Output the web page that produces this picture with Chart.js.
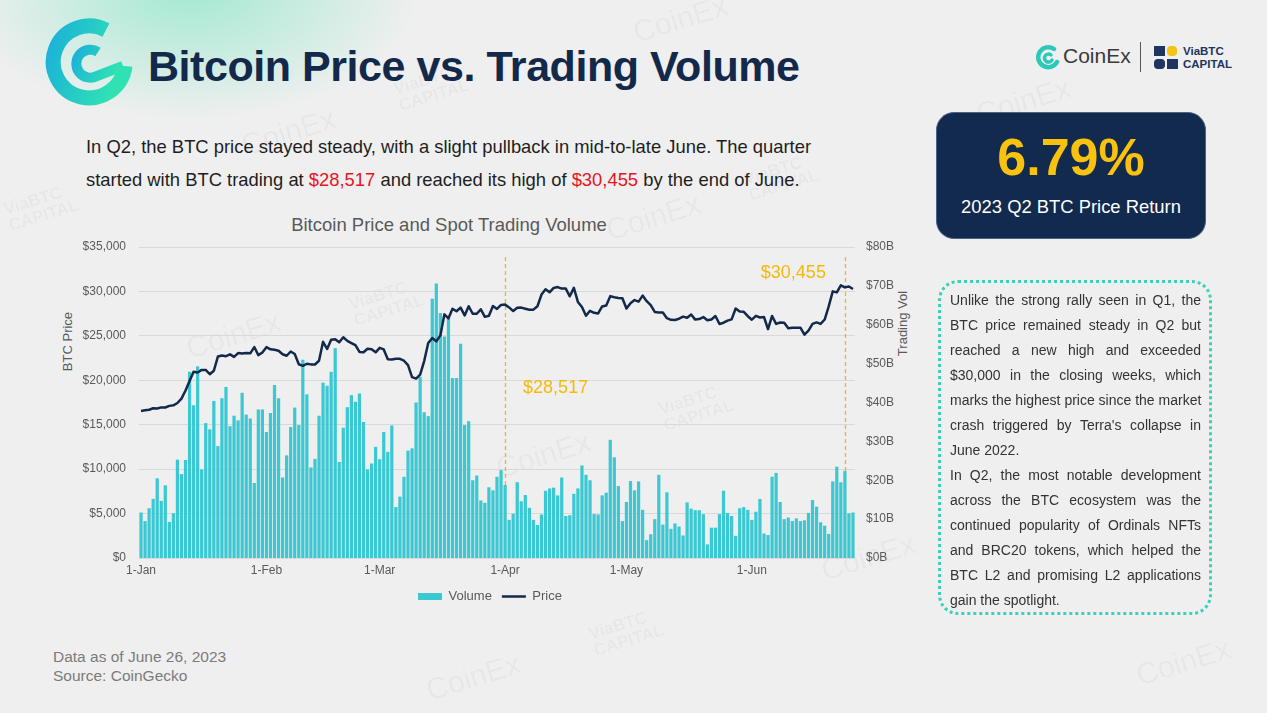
<!DOCTYPE html>
<html>
<head>
<meta charset="utf-8">
<script src="https://cdn.jsdelivr.net/npm/chart.js@4.4.1/dist/chart.umd.min.js"></script>
<style>
  body{margin:0;width:1267px;height:713px;overflow:hidden;position:relative;
    font-family:"Liberation Sans",Arial,sans-serif;
    background:radial-gradient(ellipse 230px 130px at 190px -10px, rgba(150,232,205,0.85), rgba(240,240,240,0) 100%), #efefef;}
  .abs{position:absolute}
  .wm{position:absolute;color:rgba(0,0,0,0.045);font-weight:bold;transform:rotate(-17deg);white-space:nowrap;pointer-events:none}
  .wm.c{font-size:30px;font-weight:normal}
  .wm.v{font-size:17px;line-height:17px}
  #title{left:148px;top:42px;font-size:43px;font-weight:bold;color:#13294b;letter-spacing:-0.45px;white-space:nowrap}
  #intro{left:86px;top:130px;font-size:18.4px;line-height:33px;color:#1e1e1e;white-space:nowrap}
  #intro .red{color:#e8141c}
  #ctitle{left:250px;top:214px;width:398px;text-align:center;font-size:18.5px;color:#595959}
  .ytitle{font-size:13px;color:#595959;white-space:nowrap;transform-origin:center;transform:rotate(-90deg)}
  #kpi{left:936px;top:112px;width:270px;height:127px;border-radius:18px;background:#122a4d;border:1px solid #4b6384;box-sizing:border-box;text-align:center}
  #kpi .num{color:#f9c20f;font-weight:bold;font-size:52px;margin-top:16px;line-height:56px}
  #kpi .lbl{color:#fff;font-size:18.4px;margin-top:11px}
  #note{left:938px;top:280px;width:274px;height:335px;border:3px dotted #37d2b9;border-radius:20px;box-sizing:border-box;padding:5px 8px 0 9px;font-size:14px;line-height:25px;color:#333}
  #note div{text-align:justify;text-align-last:justify;white-space:nowrap}
  #note div.last{text-align-last:left}
  #src{left:53px;top:647px;font-size:15.5px;line-height:19px;color:#7b7b7b}
</style>
</head>
<body>
<div class="wm c" style="left:632px;top:2px">CoinEx</div>
<div class="wm c" style="left:975px;top:84px">CoinEx</div>
<div class="wm c" style="left:240px;top:115px">CoinEx</div>
<div class="wm c" style="left:185px;top:318px">CoinEx</div>
<div class="wm c" style="left:495px;top:438px">CoinEx</div>
<div class="wm c" style="left:820px;top:540px">CoinEx</div>
<div class="wm c" style="left:1135px;top:645px">CoinEx</div>
<div class="wm c" style="left:425px;top:660px">CoinEx</div>
<div class="wm c" style="left:605px;top:200px">CoinEx</div>
<div class="wm v" style="left:395px;top:70px">ViaBTC<br>CAPITAL</div>
<div class="wm v" style="left:350px;top:285px">ViaBTC<br>CAPITAL</div>
<div class="wm v" style="left:660px;top:390px">ViaBTC<br>CAPITAL</div>
<div class="wm v" style="left:5px;top:190px">ViaBTC<br>CAPITAL</div>
<div class="wm v" style="left:590px;top:615px">ViaBTC<br>CAPITAL</div>
<div class="wm v" style="left:745px;top:160px">ViaBTC<br>CAPITAL</div>

<svg class="abs" style="left:43px;top:16px" width="92" height="92" viewBox="0 0 92 92">
  <defs>
    <linearGradient id="lg" x1="0" y1="0" x2="1" y2="0.3">
      <stop offset="0" stop-color="#1bb2d8"/>
      <stop offset="1" stop-color="#30e2b3"/>
    </linearGradient>
  </defs>
  <path d="M63 14 A36 36 0 1 0 82 50" fill="none" stroke="url(#lg)" stroke-width="15" stroke-linejoin="round"/>
  <path d="M55 36 A14 14 0 1 0 54 60 L80 50" fill="none" stroke="url(#lg)" stroke-width="10" stroke-linejoin="round"/>
</svg>
<div id="title" class="abs">Bitcoin Price vs. Trading Volume</div>

<svg class="abs" style="left:1036px;top:44px" width="26" height="26" viewBox="0 0 26 26">
  <path d="M18 5 A10 10 0 1 0 21 18" fill="none" stroke="#2cc9b8" stroke-width="4.5" stroke-linecap="round"/>
  <path d="M15 11 A4 4 0 1 0 16 16" fill="none" stroke="#2cc9b8" stroke-width="3.5" stroke-linecap="round"/>
</svg>
<div class="abs" style="left:1063px;top:44px;font-size:21px;color:#3a3a3a">CoinEx</div>
<div class="abs" style="left:1140px;top:42px;width:1px;height:30px;background:#555"></div>
<svg class="abs" style="left:1154px;top:45px" width="26" height="26" viewBox="0 0 26 26">
  <rect x="0" y="1" width="11" height="10" fill="#1d3560"/>
  <rect x="13" y="1" width="10" height="10" rx="4" fill="#f3c316"/>
  <rect x="0" y="14" width="11" height="10" rx="4" fill="#1d3560"/>
  <rect x="13" y="14" width="11" height="10" fill="#1d3560"/>
</svg>
<div class="abs" style="left:1183px;top:45px;font-size:11.5px;line-height:13px;font-weight:bold;color:#1d3560">ViaBTC<br>CAPITAL</div>

<div id="intro" class="abs">In Q2, the BTC price stayed steady, with a slight pullback in mid-to-late June. The quarter<br>started with BTC trading at <span class="red">$28,517</span> and reached its high of <span class="red">$30,455</span> by the end of June.</div>

<div id="ctitle" class="abs">Bitcoin Price and Spot Trading Volume</div>
<div class="abs ytitle" style="left:37px;top:334px;width:60px;text-align:center">BTC Price</div>
<div class="abs ytitle" style="left:866px;top:316px;width:72px;text-align:center">Trading Vol</div>

<div class="abs" style="left:0;top:200px;width:980px;height:413px">
  <canvas id="chart" width="980" height="413"></canvas>
</div>

<div id="kpi" class="abs"><div class="num">6.79%</div><div class="lbl">2023 Q2 BTC Price Return</div></div>

<div id="note" class="abs">
  <div>Unlike the strong rally seen in Q1, the</div>
  <div>BTC price remained steady in Q2 but</div>
  <div>reached a new high and exceeded</div>
  <div>$30,000 in the closing weeks, which</div>
  <div>marks the highest price since the market</div>
  <div>crash triggered by Terra's collapse in</div>
  <div class="last">June 2022.</div>
  <div>In Q2, the most notable development</div>
  <div>across the BTC ecosystem was the</div>
  <div>continued popularity of Ordinals NFTs</div>
  <div>and BRC20 tokens, which helped the</div>
  <div>BTC L2 and promising L2 applications</div>
  <div class="last">gain the spotlight.</div>
</div>

<div id="src" class="abs">Data as of June 26, 2023<br>Source: CoinGecko</div>

<script>
// daily BTC price (USD), 1 Jan - 26 Jun 2023
var priceUsd = [
  16540,16620,16680,16850,16830,16950,16940,17120,17180,17440,17940,18850,19930,20950,20870,21170,
  21160,20680,21070,22670,22780,22710,22920,22630,23060,23010,23080,23030,23740,22830,23130,
  23730,23490,23430,23320,22930,22760,23240,22960,21800,21630,21860,21790,21780,22200,24330,23520,
  24570,24630,24280,24840,24440,24190,23950,23190,23150,23550,23490,23150,
  23650,23470,22360,22350,22430,22410,22200,21700,20360,20190,20630,22160,24200,24750,24380,25050,
  27420,26970,28040,27770,28180,27300,28330,27490,27490,27990,27140,27260,28350,28030,28480,
  28517,28200,27790,28170,28180,28050,27930,27950,28330,29650,30240,29900,30390,30490,30320,30320,
  29450,30400,28820,28250,27260,27820,27590,27520,28310,28420,29470,29340,29250,29230,
  28070,28680,29030,28850,29530,28900,28450,27690,27630,27620,26990,26800,26780,26930,27170,27030,
  27400,26830,26890,27120,26750,26850,27230,26330,26480,26720,26860,28080,27740,27700,27210,
  26820,27250,27070,27120,25760,27240,26350,26500,26480,25850,25920,25900,25920,25130,25590,26340,
  26510,26340,26840,28310,30010,29890,30690,30455,30550,30270
];

// daily spot trading volume ($B)
var volumeBn = [
  11.7,9.5,12.8,15.2,20.5,14.7,18.7,9.3,11.5,25.3,21.6,25.2,47.9,39.3,49.3,22.8,
  34.7,33.1,40.4,28.8,41.1,44.0,33.9,36.6,35.4,42.5,36.9,35.9,19.3,38.2,
  38.2,32.4,37.3,44.5,41.1,20.7,26.4,33.7,38.7,34.2,51.0,42.1,23.3,25.5,36.6,45.1,
  44.3,47.9,54.0,24.7,33.5,38.8,41.9,40.2,42.3,35.0,22.8,24.3,28.6,25.4,32.4,
  27.3,34.1,13.1,15.8,20.9,27.6,28.2,40.0,46.6,37.5,36.5,66.7,70.6,63.0,57.0,61.8,
  46.3,46.3,55.1,34.2,35.2,20.0,21.2,14.8,14.2,18.2,17.4,20.9,22.6,
  18.8,9.8,11.4,19.5,14.6,16.2,12.9,9.8,8.5,11.2,17.3,17.9,18.1,16.1,20.7,10.8,
  11.0,16.5,17.9,23.8,21.4,20.0,11.3,11.2,16.1,16.8,30.4,25.9,18.5,9.5,14.4,
  19.8,17.4,19.7,12.4,4.6,6.1,10.0,21.4,8.6,16.9,7.5,8.9,8.1,5.8,14.3,12.7,
  12.3,12.3,11.3,3.5,7.8,7.8,11.3,17.3,11.6,10.8,5.7,12.8,
  13.1,12.4,9.8,11.9,15.2,6.3,5.9,20.9,21.9,14.4,10.0,10.4,9.5,10.2,9.5,9.7,
  11.6,14.9,13.2,9.2,8.3,6.2,19.7,23.5,19.5,22.4,11.5,11.7
];

var monthNames = ['Jan','Feb','Mar','Apr','May','Jun'];
var monthTicks = ['1-Jan','1-Feb','1-Mar','1-Apr','1-May','1-Jun'];
var priceTicks = [0,5000,10000,15000,20000,25000,30000,35000];
var volumeTicks = [0,10,20,30,40,50,60,70,80];

// marked days: start of quarter and quarter high
var markers = [
  {day:'1-Apr', text:'$28,517'},
  {day:'24-Jun', text:'$30,455'}
];

var days = [];
for(var i=0; i<priceUsd.length; i++){
    var d = new Date(2023, 0, 1+i);
    days.push(d.getDate()+'-'+monthNames[d.getMonth()]);
}

var markerPlugin = {
    id: 'markers',
    beforeDatasetsDraw: function(chart){
        var ctx = chart.ctx, area = chart.chartArea, x = chart.scales.x;
        ctx.save();
        ctx.strokeStyle = '#f0b323';
        ctx.lineWidth = 1.3;
        ctx.setLineDash([4,3]);
        markers.forEach(function(m){
            var px = Math.round(x.getPixelForValue(days.indexOf(m.day)))+0.5;
            ctx.beginPath();
            ctx.moveTo(px, area.top+10);
            ctx.lineTo(px, area.bottom);
            ctx.stroke();
        });
        ctx.restore();
    },
    afterDatasetsDraw: function(chart){
        var ctx = chart.ctx, area = chart.chartArea, x = chart.scales.x;
        ctx.save();
        ctx.fillStyle = '#f5b90c';
        ctx.font = '18px "Liberation Sans", Arial, sans-serif';
        ctx.textBaseline = 'middle';
        markers.forEach(function(m, k){
            var px = x.getPixelForValue(days.indexOf(m.day));
            if(k==0){
                ctx.textAlign = 'left';
                ctx.fillText(m.text, px+18, area.top+141);
            }else{
                ctx.textAlign = 'right';
                ctx.fillText(m.text, px-19, area.top+26);
            }
        });
        ctx.restore();
    }
};

var tickFont = {family:'"Liberation Sans", Arial, sans-serif', size:12};

new Chart(document.getElementById('chart').getContext('2d'), {
    data: {
        labels: days,
        datasets: [
            {
                type: 'bar',
                label: 'Volume',
                data: volumeBn,
                yAxisID: 'y1',
                backgroundColor: '#3bc8d2',
                barPercentage: 0.8,
                categoryPercentage: 1,
                pointStyle: 'rect',
                order: 2
            },
            {
                type: 'line',
                label: 'Price',
                data: priceUsd,
                yAxisID: 'y',
                borderColor: '#13294b',
                backgroundColor: '#13294b',
                borderWidth: 2.5,
                borderJoinStyle: 'round',
                pointRadius: 0,
                pointStyle: 'line',
                tension: 0,
                order: 1
            }
        ]
    },
    options: {
        responsive: false,
        animation: false,
        devicePixelRatio: 1,
        layout: {padding: {top:47, left:0, right:0, bottom:0}},
        plugins: {
            legend: {
                position: 'bottom',
                labels: {
                    usePointStyle: true,
                    pointStyleWidth: 24,
                    boxHeight: 7,
                    padding: 10,
                    color: '#595959',
                    font: {family:'"Liberation Sans", Arial, sans-serif', size:13},
                    sort: function(a, b){ return a.datasetIndex - b.datasetIndex; }
                }
            },
            tooltip: {enabled:false}
        },
        scales: {
            x: {
                grid: {display:false, drawTicks:false},
                border: {display:false},
                ticks: {
                    autoSkip: false,
                    maxRotation: 0,
                    padding: 5,
                    color: '#595959',
                    font: tickFont,
                    callback: function(v){
                        var l = days[v];
                        return monthTicks.indexOf(l) >= 0 ? l : '';
                    }
                },
                afterFit: function(s){ s.height = 22; }
            },
            y: {
                position: 'left',
                min: priceTicks[0],
                max: priceTicks[priceTicks.length-1],
                grid: {color:'#d9d9d9', drawTicks:false},
                border: {display:false},
                ticks: {
                    stepSize: priceTicks[1]-priceTicks[0],
                    padding: 13,
                    color: '#595959',
                    font: tickFont,
                    callback: function(v){ return '$'+v.toLocaleString('en-US'); }
                },
                afterFit: function(s){ s.width = 139; }
            },
            y1: {
                position: 'right',
                min: volumeTicks[0],
                max: volumeTicks[volumeTicks.length-1],
                grid: {display:false, drawTicks:false},
                border: {display:false},
                ticks: {
                    stepSize: volumeTicks[1]-volumeTicks[0],
                    padding: 11,
                    color: '#595959',
                    font: tickFont,
                    callback: function(v){ return '$'+v+'B'; }
                },
                afterFit: function(s){ s.width = 125; }
            }
        }
    },
    plugins: [markerPlugin]
});
</script>
</body>
</html>
